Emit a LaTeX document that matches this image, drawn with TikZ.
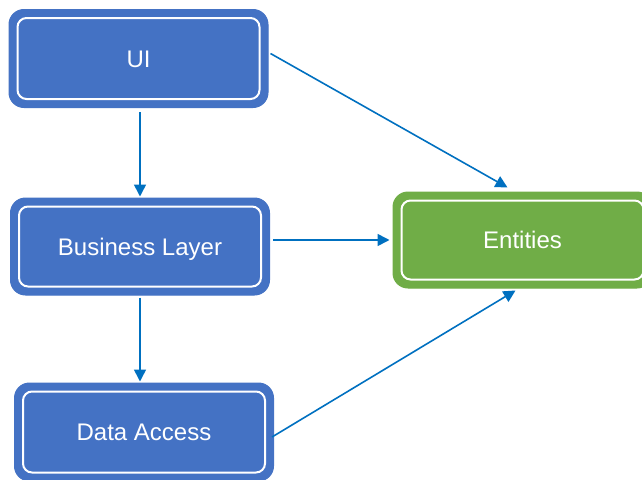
\documentclass[tikz,border=0pt]{standalone}
\usepackage{fontspec}
\setmainfont{Liberation Sans}
\usetikzlibrary{arrows.meta}

\definecolor{layerblue}{RGB}{68,114,196}
\definecolor{entgreen}{RGB}{112,173,71}
\definecolor{linkblue}{RGB}{0,112,192}

\tikzset{
  layer/.style={fill=#1, draw=#1, line width=1pt, rounded corners=15pt,
    minimum width=259pt, minimum height=98pt, inner sep=0pt,
    text height=17pt, text depth=0pt,
    text=white, font=\fontsize{24}{28}\selectfont},
  innerline/.style={draw=white, line width=2pt, rounded corners=9pt},
  conn/.style={draw=linkblue, line width=1.6pt,
    -{Triangle[length=12pt,width=12pt]}},
}

% draw the thin white frame inside a box
\newcommand{\innerframe}[1]{%
  \draw[innerline] ([shift={(9pt,9pt)}]#1.south west) rectangle ([shift={(-9pt,-9pt)}]#1.north east);}

\begin{document}
\begin{tikzpicture}[x=1pt,y=-1pt]
  \useasboundingbox (0,0) rectangle (642,479);

  \node[layer=layerblue] (ui) at (138.5,58.5) {UI};
  \node[layer=layerblue, minimum height=97pt] (bl) at (140,246.5) {Business Layer};
  \node[layer=layerblue] (da) at (144,432) {Data Access};
  \node[layer=entgreen, minimum height=96pt] (ent) at (522.5,240) {Entities};

  \innerframe{ui}
  \innerframe{bl}
  \innerframe{da}
  \innerframe{ent}

  % dependencies between layers
  \draw[conn, shorten <=4pt, shorten >=1pt] (bl.north |- ui.south) -- (bl.north);
  \draw[conn, shorten <=2pt, shorten >=1pt] (bl.south) -- (bl.south |- da.north);
  \draw[conn, shorten <=3pt, shorten >=3pt] (bl.east |- ent.west) -- (ent.west);
  \draw[conn] ([xshift=2pt,yshift=5pt]ui.east) -- ([xshift=-15pt,yshift=4pt]ent.north);
  \draw[conn] ([xshift=-2pt,yshift=-5pt]da.east) -- ([xshift=-7pt,yshift=-2pt]ent.south);
\end{tikzpicture}
\end{document}
